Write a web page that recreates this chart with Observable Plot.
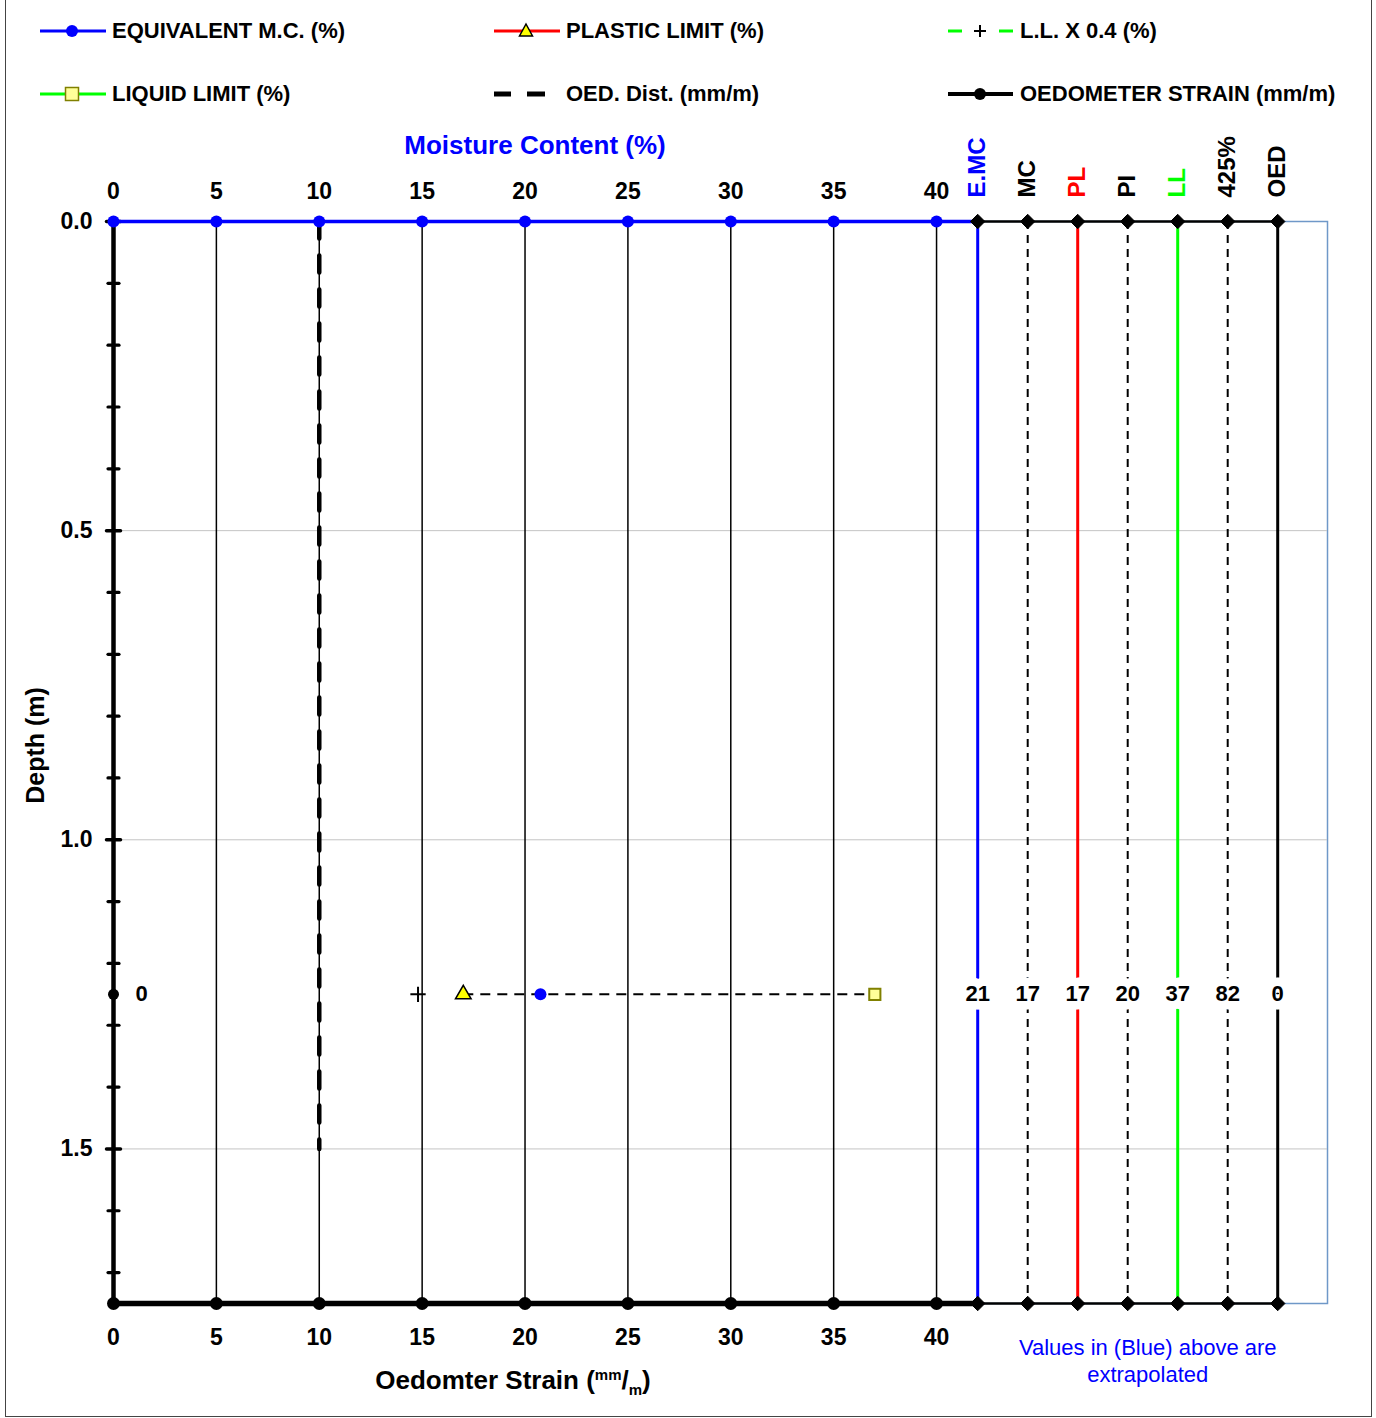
<!DOCTYPE html>
<html><head><meta charset="utf-8">
<script src="https://cdn.jsdelivr.net/npm/d3@7"></script>
<script src="https://cdn.jsdelivr.net/npm/@observablehq/plot@0.6"></script>
<style>
body{margin:0;background:#fff;font-family:"Liberation Sans",Arial,sans-serif;}
#page{position:relative;width:1376px;height:1418px;overflow:hidden;background:#fff;}
#border{position:absolute;left:5px;top:-2px;width:1367px;height:1419px;border:1.5px solid #444;box-sizing:border-box;pointer-events:none;}
#legend{position:relative;height:125px;}
.item{position:absolute;display:flex;align-items:center;height:30px;font-weight:bold;font-size:22px;color:#000;white-space:nowrap;}
.item svg{flex:none;margin-right:6px;}
#chart svg{display:block;overflow:visible;}
</style></head>
<body><div id="page"><div id="legend"></div><div id="chart"></div><div id="border"></div></div>
<script>
// ---------- data ----------
const moistureTicks = [0, 5, 10, 15, 20, 25, 30, 35, 40];
const depthMajor = [0, 0.5, 1.0, 1.5];
const depthMinor = [0.1, 0.2, 0.3, 0.4, 0.6, 0.7, 0.8, 0.9, 1.1, 1.2, 1.3, 1.4, 1.6, 1.7];
const depthDomain = [0, 1.75];
const columnNames = ["E.MC", "MC", "PL", "PI", "LL", "425%", "OED"];
const columnValues = [21, 17, 17, 20, 37, 82, 0];
const columnColors = ["#0000ff", "#000000", "#ff0000", "#000000", "#00ff00", "#000000", "#000000"];
const columnDashed = [false, true, false, true, false, true, false];
const sampleDepth = [1.25];
const equivalentMC = [20.75];
const plasticLimit = [17];
const liquidLimit = [37];
const liquidLimit04 = [14.8];
const oedometerStrain = [0];
const oedDistDepth = [0, 1.5];
const oedDistValue = [10, 10];
const legendLabels = ["EQUIVALENT M.C. (%)", "PLASTIC LIMIT (%)", "L.L. X 0.4 (%)",
                      "LIQUID LIMIT (%)", "OED. Dist. (mm/m)", "OEDOMETER STRAIN (mm/m)"];
const topTitle = "Moisture Content (%)";
const bottomTitle = "Oedomter Strain (mm/m)";
const yTitle = "Depth (m)";
const noteText = "Values in (Blue) above are\nextrapolated";

// ---------- legend ----------
const swatches = [
  `<line x1="0" x2="66" y1="15" y2="15" stroke="#0000ff" stroke-width="3"/><circle cx="32" cy="15" r="6" fill="#0000ff"/>`,
  `<line x1="0" x2="66" y1="15" y2="15" stroke="#ff0000" stroke-width="3"/><path d="M32,8L38.5,20L25.5,20Z" fill="#ffff00" stroke="#000" stroke-width="1.5"/>`,
  `<line x1="0" x2="14" y1="15" y2="15" stroke="#00ff00" stroke-width="3"/><line x1="51" x2="65" y1="15" y2="15" stroke="#00ff00" stroke-width="3"/><path d="M26,15H38M32,9V21" stroke="#000" stroke-width="2"/>`,
  `<line x1="0" x2="66" y1="15" y2="15" stroke="#00ff00" stroke-width="3"/><rect x="25.5" y="8.5" width="13" height="13" fill="#ffff99" stroke="#808000" stroke-width="1.5"/>`,
  `<line x1="0" x2="17" y1="15" y2="15" stroke="#000" stroke-width="5"/><line x1="33" x2="51" y1="15" y2="15" stroke="#000" stroke-width="5"/>`,
  `<line x1="0" x2="65" y1="15" y2="15" stroke="#000" stroke-width="4"/><circle cx="32" cy="15" r="6" fill="#000"/>`
];
const colLeft = [40, 494, 948];
const rowMid = [31, 94];
const legend = document.getElementById("legend");
legendLabels.forEach((lab, i) => {
  const d = document.createElement("div");
  d.className = "item";
  d.style.left = colLeft[i % 3] + "px";
  d.style.top = (rowMid[Math.floor(i / 3)] - 15) + "px";
  d.innerHTML = `<svg width="66" height="30">${swatches[i]}</svg><span>${lab}</span>`;
  legend.appendChild(d);
});

// ---------- chart ----------
const colX = i => 42 + i * 2.43;
const columns = columnNames.map((name, i) => ({
  name, value: columnValues[i], color: columnColors[i], dashed: columnDashed[i], x: colX(i), depth: sampleDepth[0]
}));
const samples = sampleDepth.map((depth, i) => ({
  depth, emc: equivalentMC[i], pl: plasticLimit[i], ll: liquidLimit[i], ll04: liquidLimit04[i], oed: oedometerStrain[i]
}));
const oedDist = oedDistDepth.map((depth, i) => ({depth, value: oedDistValue[i]}));
const dMax = depthDomain[1];
const tickShape = {draw(context, l) { context.moveTo(0, 0); context.lineTo(0, -l); }};
const font = '"Liberation Sans", Arial, sans-serif';

const chart = Plot.plot({
  width: 1376, height: 1293,
  marginLeft: 113, marginRight: 49, marginTop: 96, marginBottom: 115,
  style: {fontFamily: font, fontWeight: "bold", fontSize: "22px", color: "#000", background: "#fff", overflow: "visible"},
  x: {domain: [0, 59]},
  y: {domain: depthDomain, reverse: true},
  color: {type: "identity"},
  marks: [
    Plot.frame({stroke: "#6f98c8", strokeWidth: 1.5}),
    Plot.ruleY(depthMajor.filter(d => d > 0), {stroke: "#c4c4c4", strokeWidth: 1}),
    Plot.ruleX(moistureTicks.filter(d => d > 0), {y1: 0, y2: dMax, stroke: "#000", strokeWidth: 1.5}),
    Plot.line(oedDist, {x: "value", y: "depth", stroke: "#000", strokeWidth: 4.5, strokeDasharray: "17,17"}),
    Plot.ruleX(columns.filter(d => !d.dashed), {x: "x", y1: 0, y2: dMax, stroke: "color", strokeWidth: 3}),
    Plot.ruleX(columns.filter(d => d.dashed), {x: "x", y1: 0, y2: dMax, stroke: "#000", strokeWidth: 2, strokeDasharray: "8,6"}),
    Plot.ruleX([0], {y1: 0, y2: dMax, stroke: "#000", strokeWidth: 4.5}),
    Plot.vector(depthMajor, {x: 0, y: d => d, length: 14, rotate: 90, anchor: "middle", shape: tickShape, stroke: "#000", strokeWidth: 3.5}),
    Plot.vector(depthMinor, {x: 0, y: d => d, length: 11, rotate: 90, anchor: "middle", shape: tickShape, stroke: "#000", strokeWidth: 3.2}),
    Plot.ruleY([0], {x1: 0, x2: colX(0), stroke: "#0000ff", strokeWidth: 3.5}),
    Plot.ruleY([0], {x1: colX(0), x2: colX(columns.length - 1), stroke: "#000", strokeWidth: 2.5}),
    Plot.ruleY([dMax], {x1: 0, x2: colX(0), stroke: "#000", strokeWidth: 5.5}),
    Plot.ruleY([dMax], {x1: colX(0), x2: colX(columns.length - 1), stroke: "#000", strokeWidth: 2.5}),
    Plot.dot(moistureTicks, {x: d => d, y: 0, r: 6, fill: "#0000ff"}),
    Plot.dot(moistureTicks, {x: d => d, y: dMax, r: 6.5, fill: "#000"}),
    Plot.dot(columns, {x: "x", y: 0, symbol: "diamond2", r: 6.5, fill: "#000", stroke: "#000", strokeWidth: 1}),
    Plot.dot(columns, {x: "x", y: dMax, symbol: "diamond2", r: 6.5, fill: "#000", stroke: "#000", strokeWidth: 1}),
    // sample row
    Plot.link(samples, {x1: "pl", x2: "ll", y1: "depth", y2: "depth", stroke: "#000", strokeWidth: 2, strokeDasharray: "10,7"}),
    Plot.dot(samples, {x: "ll04", y: "depth", symbol: "plus", r: 5, stroke: "#000", strokeWidth: 2}),
    Plot.dot(samples, {x: "pl", y: "depth", symbol: "triangle", r: 5.8, fill: "#ffff00", stroke: "#000", strokeWidth: 1.5}),
    Plot.dot(samples, {x: "emc", y: "depth", r: 6, fill: "#0000ff"}),
    Plot.dot(samples, {x: "ll", y: "depth", symbol: "square", r: 6.3, fill: "#ffff99", stroke: "#808000", strokeWidth: 2}),
    Plot.dot(samples, {x: "oed", y: "depth", r: 5.5, fill: "#000"}),
    Plot.text(samples, {x: "oed", y: "depth", text: d => String(d.oed), dx: 28, fontSize: 22, fill: "#000"}),
    Plot.text(columns, {x: "x", y: "depth", text: d => String(d.value), fill: "#000", stroke: "#fff", strokeWidth: 17, fontSize: 22}),
    // column headers
    Plot.text(columns, {x: "x", y: 0, text: "name", rotate: -90, textAnchor: "start", lineAnchor: "middle", dy: -24, fill: "color", fontSize: 24}),
    // axes
    Plot.axisX(moistureTicks, {anchor: "top", tickSize: 0, tickPadding: 23, fontSize: 23, label: null}),
    Plot.axisX(moistureTicks, {anchor: "bottom", tickSize: 0, tickPadding: 25, fontSize: 23, label: null}),
    Plot.axisY(depthMajor, {anchor: "left", tickSize: 0, tickPadding: 21, tickFormat: ".1f", fontSize: 23, label: null}),
    // titles
    Plot.text([topTitle], {x: d3.mean(d3.extent(moistureTicks)), y: 0, text: d => d, dx: 10, dy: -76, fill: "#0000ff", fontSize: 26}),
    Plot.text([bottomTitle], {x: d3.mean(d3.extent(moistureTicks)), y: dMax, text: d => d, dx: -12, dy: 77, fill: "#000", fontSize: 26}),
    Plot.text([yTitle], {frameAnchor: "left", textAnchor: "middle", lineAnchor: "middle", text: d => d, dx: -78, dy: -17, rotate: -90, fill: "#000", fontSize: 25}),
    Plot.text([noteText], {x: (colX(0) + colX(columns.length - 1)) / 2, y: dMax, text: d => d, dx: 20, dy: 56, fill: "#0000ff", fontWeight: "normal", fontSize: 22, lineHeight: 1.23})
  ]
});
document.getElementById("chart").appendChild(chart);

// superscript / subscript in bottom title
d3.select(chart).selectAll("text").filter(function() { return this.textContent === bottomTitle; }).each(function() {
  const t = d3.select(this);
  t.text(null);
  t.append("tspan").text("Oedomter Strain (");
  t.append("tspan").attr("font-size", 15).attr("dy", -9).text("mm");
  t.append("tspan").attr("dy", 9).text("/");
  t.append("tspan").attr("font-size", 15).attr("dy", 6).text("m");
  t.append("tspan").attr("dy", -6).text(")");
});
</script>
</body></html>
